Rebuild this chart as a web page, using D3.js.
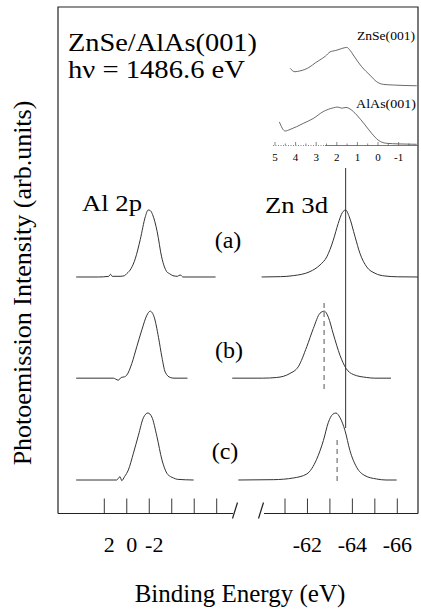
<!DOCTYPE html>
<html>
<head>
<meta charset="utf-8">
<script src="https://cdn.jsdelivr.net/npm/d3@7"></script>
<style>
  body { margin: 0; background: #fff; }
</style>
</head>
<body>
<svg id="chart" width="421" height="612"></svg>
<script>
// ---- data: [binding energy (eV), intensity (arb.)] ----
const panels = ["(a)", "(b)", "(c)"];
const panelOffsets = [3.03, 1.52, 0];

const al2pA = [[4.5,0],[2.5,0],[1.6,0.01],[1.45,0.04],[1.3,0.01],[0.6,0.01],[0.2,0.02],[0,0.05],[-0.4,0.13],[-0.75,0.27],[-1.2,0.56],[-1.65,0.9],[-1.9,1],[-2.1,0.99],[-2.3,0.93],[-2.7,0.68],[-3.1,0.3],[-3.35,0.15],[-3.55,0.08],[-3.8,0.05],[-4.1,0.02],[-4.5,0.01],[-4.75,0.03],[-5.0,0],[-7.9,0]];
const al2pB = [[4.5,0],[1.2,0],[0.75,-0.03],[0.5,0.01],[0.2,0.02],[0,0.045],[-0.45,0.22],[-0.89,0.47],[-1.34,0.72],[-1.79,0.94],[-2.08,1],[-2.44,0.91],[-2.82,0.61],[-3.13,0.31],[-3.42,0.09],[-3.87,0.01],[-4.2,0],[-5.4,0]];
const al2pC = [[4.5,0],[0.9,0],[0.6,0.05],[0.45,-0.01],[0.2,0.05],[-0.14,0.15],[-0.59,0.4],[-1.04,0.67],[-1.48,0.93],[-1.88,1],[-2.23,0.94],[-2.68,0.65],[-3.13,0.3],[-3.57,0.1],[-3.9,0.05],[-4.16,0.03],[-4.5,0.01],[-5.95,0]];

const zn3dA = [[-59.96,0],[-60.8,0.005],[-61.37,0.02],[-62.11,0.08],[-62.56,0.18],[-62.86,0.3],[-63.15,0.55],[-63.37,0.8],[-63.55,0.96],[-63.7,1],[-63.86,0.9],[-64.12,0.6],[-64.34,0.35],[-64.64,0.15],[-65.01,0.055],[-65.45,0.015],[-66,0.003],[-66.92,0]];
const zn3dB = [[-58.65,0],[-60.0,0],[-60.63,0.01],[-61.22,0.07],[-61.59,0.17],[-61.97,0.47],[-62.26,0.74],[-62.56,0.97],[-62.75,1],[-62.93,0.91],[-63.15,0.66],[-63.45,0.34],[-63.72,0.145],[-64.04,0.055],[-64.64,0.01],[-65.0,0],[-65.72,0]];
const zn3dC = [[-58.92,0],[-60.5,0.005],[-61.37,0.03],[-61.97,0.09],[-62.41,0.31],[-62.71,0.59],[-62.93,0.86],[-63.12,0.98],[-63.27,1],[-63.45,0.93],[-63.67,0.74],[-63.89,0.44],[-64.19,0.19],[-64.56,0.065],[-65.08,0.015],[-65.5,0],[-65.97,0]];

// inset: valence band spectra
const znseOffset = 1.54;
const znseVB = [[4.27,0.46],[4.03,0.37],[3.8,0.39],[3.55,0.43],[3.3,0.5],[3.05,0.6],[2.82,0.68],[2.55,0.78],[2.33,0.89],[2.05,0.93],[1.76,0.98],[1.52,1.01],[1.35,0.93],[1.2,0.81],[0.79,0.5],[0.39,0.28],[0.06,0.105],[-0.26,0.037],[-0.74,0.02],[-1.88,0]];
const alasVB = [[4.79,0.59],[4.51,0.35],[4.27,0.39],[3.63,0.55],[3.14,0.68],[2.66,0.86],[2.17,0.96],[1.95,0.98],[1.76,0.95],[1.55,0.97],[1.36,0.93],[1.03,0.77],[0.63,0.51],[0.31,0.29],[-0.01,0.11],[-0.42,0.026],[-1,0.01],[-1.88,0]];

// ticks
const leftTicks = [2, 0, -2, -4, -6, -8];
const leftLabels = [2, 0, -2];
const rightTicks = [-61, -62, -63, -64, -65, -66];
const rightLabels = [-62, -64, -66];
const insetTicks = [5, 4, 3, 2, 1, 0, -1];

// reference lines
const vbmLine = -63.7;          // solid line (a)
const shiftLines = [-62.74, -63.32]; // dashed (b), (c)

// pick an installed serif face (check by measuring against monospace)
function pickFont(cands) {
  const ctx = document.createElement("canvas").getContext("2d");
  const probe = "Binding Energy 0123 hv";
  ctx.font = "40px monospace";
  const base = ctx.measureText(probe).width;
  for (const f of cands) {
    ctx.font = `40px "${f}", monospace`;
    if (Math.abs(ctx.measureText(probe).width - base) > 0.5) return `"${f}", serif`;
  }
  return "serif";
}
const serifFont = pickFont(["Liberation Serif", "Times New Roman", "DejaVu Serif", "Noto Serif", "FreeSerif", "Tinos"]);

// ---- scales ----
const svg = d3.select("#chart").style("font-family", serifFont);
const xL = d3.scaleLinear().domain([2, -8]).range([104.3, 216.7]);
const xR = d3.scaleLinear().domain([-61, -66]).range([285, 397.3]);
const y = d3.scaleLinear().domain([0, 1]).range([480, 413]);
const xIn = d3.scaleLinear().domain([5, -1]).range([275, 398.6]);
const yIn = d3.scaleLinear().domain([0, 1]).range([144.3, 106.3]);

const frameL = 58, frameT = 7, frameR = 418, axisY = 513.5;

// frame
svg.append("path")
  .attr("d", `M${frameL},${axisY}V${frameT}H${frameR}V${axisY}`)
  .attr("fill", "none").attr("stroke", "#222").attr("stroke-width", 1.2);

// bottom axis with break
const axis = svg.append("g").attr("stroke", "#222").attr("stroke-width", 1.2);
axis.append("line").attr("x1", frameL).attr("x2", 233).attr("y1", axisY).attr("y2", axisY);
axis.append("line").attr("x1", 264).attr("x2", frameR).attr("y1", axisY).attr("y2", axisY);
[235, 261].forEach(bx => {
  axis.append("line").attr("x1", bx - 2.5).attr("x2", bx + 2.5).attr("y1", axisY + 5).attr("y2", axisY - 11);
});
axis.selectAll(".tl").data(leftTicks).join("line")
  .attr("x1", d => xL(d)).attr("x2", d => xL(d)).attr("y1", axisY).attr("y2", axisY - 15)
  .attr("stroke-width", 0.9);
axis.selectAll(".tr").data(rightTicks).join("line")
  .attr("x1", d => xR(d)).attr("x2", d => xR(d)).attr("y1", axisY).attr("y2", axisY - 15)
  .attr("stroke-width", 0.9);

svg.append("g").selectAll("text").data(leftLabels).join("text")
  .attr("x", d => xL(d) + 5).attr("y", 552)
  .attr("text-anchor", "middle").attr("font-size", 22)
  .text(d => d);
svg.append("g").selectAll("text").data(rightLabels).join("text")
  .attr("x", d => xR(d)).attr("y", 552)
  .attr("text-anchor", "middle").attr("font-size", 22)
  .text(d => d);

// axis titles
svg.append("text").attr("x", 240).attr("y", 602)
  .attr("text-anchor", "middle").attr("font-size", 25)
  .text("Binding Energy (eV)");
svg.append("text")
  .attr("transform", "translate(31,283) rotate(-90)")
  .attr("text-anchor", "middle").attr("font-size", 26)
  .text("Photoemission Intensity (arb.units)");

// title (widths fitted to the reference)
svg.append("text").attr("x", 68).attr("y", 51).attr("font-size", 26)
  .attr("textLength", 189).attr("lengthAdjust", "spacingAndGlyphs").text("ZnSe/AlAs(001)");
svg.append("text").attr("x", 68).attr("y", 77.5).attr("font-size", 26)
  .attr("textLength", 177).attr("lengthAdjust", "spacingAndGlyphs").text("hν = 1486.6 eV");

// core level spectra
const alSets = [al2pA, al2pB, al2pC];
const znSets = [zn3dA, zn3dB, zn3dC];
const spectra = svg.append("g").attr("fill", "none").attr("stroke", "#333").attr("stroke-width", 1);
panels.forEach((p, i) => {
  const off = panelOffsets[i];
  const lineL = d3.line().x(d => xL(d[0])).y(d => y(d[1] + off)).curve(d3.curveMonotoneX);
  const lineR = d3.line().x(d => xR(d[0])).y(d => y(d[1] + off)).curve(d3.curveMonotoneX);
  spectra.append("path").attr("d", lineL(alSets[i].slice().reverse()));
  spectra.append("path").attr("d", lineR(znSets[i].slice().reverse()));
});

// panel labels
const labelY = [248, 358, 459];
const labelX = [228, 229, 225];
svg.append("g").selectAll("text").data(panels).join("text")
  .attr("x", (d, i) => labelX[i]).attr("y", (d, i) => labelY[i])
  .attr("text-anchor", "middle").attr("font-size", 24)
  .text(d => d);

svg.append("text").attr("x", 82).attr("y", 211).attr("font-size", 24)
  .attr("textLength", 60).attr("lengthAdjust", "spacingAndGlyphs").text("Al 2p");
svg.append("text").attr("x", 265).attr("y", 213).attr("font-size", 24)
  .attr("textLength", 63).attr("lengthAdjust", "spacingAndGlyphs").text("Zn 3d");

// reference lines
svg.append("line")
  .attr("x1", xR(vbmLine)).attr("x2", xR(vbmLine)).attr("y1", 168).attr("y2", 428)
  .attr("stroke", "#333").attr("stroke-width", 1);
const dashSpans = [[303, 392], [440, 482]];
svg.append("g").selectAll("line").data(shiftLines).join("line")
  .attr("x1", d => xR(d)).attr("x2", d => xR(d))
  .attr("y1", (d, i) => dashSpans[i][0]).attr("y2", (d, i) => dashSpans[i][1])
  .attr("stroke", "#555").attr("stroke-width", 1).attr("stroke-dasharray", "5,4");

// inset
const inset = svg.append("g");
inset.append("line").attr("x1", 273).attr("x2", 325).attr("y1", 145.5).attr("y2", 145.5)
  .attr("stroke", "#666").attr("stroke-width", 0.8).attr("stroke-dasharray", "1,1.5");
inset.append("line").attr("x1", 325).attr("x2", frameR).attr("y1", 145.5).attr("y2", 145.5)
  .attr("stroke", "#555").attr("stroke-width", 0.8);
inset.selectAll(".it").data(d3.range(5, -1.6, -0.5)).join("line")
  .attr("x1", d => xIn(d)).attr("x2", d => xIn(d)).attr("y1", 145.5)
  .attr("y2", d => Number.isInteger(d) ? 142 : 143.5)
  .attr("stroke", "#555").attr("stroke-width", 0.7);
inset.selectAll("text.il").data(insetTicks).join("text")
  .attr("class", "il")
  .attr("x", d => xIn(d)).attr("y", 161)
  .attr("text-anchor", "middle").attr("font-size", 11)
  .text(d => d);
const lineIn = off => d3.line().x(d => xIn(d[0])).y(d => yIn(d[1] + off)).curve(d3.curveMonotoneX);
inset.append("path").attr("d", lineIn(znseOffset)(znseVB.slice().reverse()))
  .attr("fill", "none").attr("stroke", "#444").attr("stroke-width", 0.8);
inset.append("path").attr("d", lineIn(0)(alasVB.slice().reverse()))
  .attr("fill", "none").attr("stroke", "#444").attr("stroke-width", 0.8);
inset.append("text").attr("x", 415).attr("y", 40).attr("text-anchor", "end").attr("font-size", 12.5)
  .attr("textLength", 58).attr("lengthAdjust", "spacingAndGlyphs").text("ZnSe(001)");
inset.append("text").attr("x", 416).attr("y", 108).attr("text-anchor", "end").attr("font-size", 12.5)
  .attr("textLength", 60).attr("lengthAdjust", "spacingAndGlyphs").text("AlAs(001)");
</script>
</body>
</html>
